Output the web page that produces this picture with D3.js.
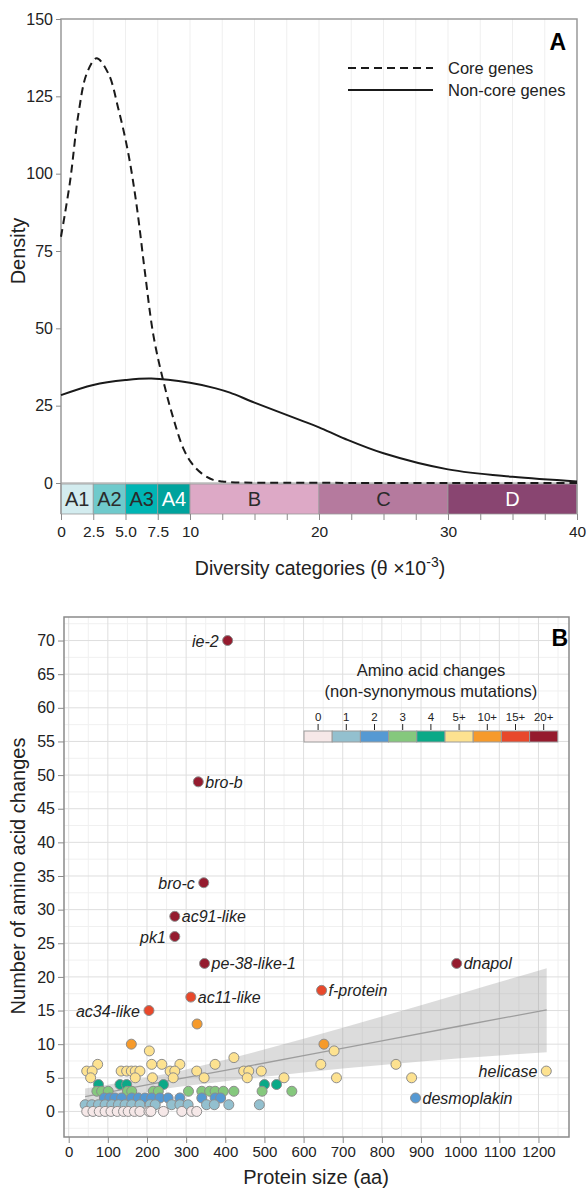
<!DOCTYPE html>
<html>
<head>
<meta charset="utf-8">
<script src="https://cdn.jsdelivr.net/npm/d3@7"></script>
<style>
  body { margin: 0; background: #fff; }
  svg { display: block; font-family: "Liberation Sans", Arial, sans-serif; }
  .axis text { fill: #222; }
  .axis line { stroke: #8a8a8a; }
</style>
</head>
<body>
<svg id="chart" width="588" height="1191"></svg>
<script>
// ---------- Panel A: density of diversity ----------
const coreX = [0, 0.7, 1.34, 2.0, 2.76, 3.67, 4.44, 5.22, 5.87, 6.51, 7.16, 7.93, 8.71, 9.48, 10.13, 10.9, 11.8, 12.5, 13.5, 15, 20, 30, 40];
const coreY = [79.6, 97.4, 119, 132.4, 137.3, 132.4, 121.1, 106.5, 89.5, 68.0, 47.8, 33.0, 20.9, 11.2, 6.4, 3.1, 1.0, 0.5, 0.2, 0.1, 0.05, 0, 0];
const noncoreX = [0, 2.5, 5, 7, 10, 12, 13.1, 15, 18.5, 20, 22, 25, 30, 35, 40];
const noncoreY = [28.4, 31.7, 33.3, 33.8, 32.4, 30.6, 29.2, 26.0, 20.4, 18.0, 14.3, 9.6, 4.4, 2.0, 0.5];

const catNames = ["A1", "A2", "A3", "A4", "B", "C", "D"];
const catBreaks = [0, 2.5, 5, 7.5, 10, 20, 30, 40];
const diversityTicks = [0, 2.5, 5, 7.5, 10, 20, 30, 40];
const diversityLabels = ["0", "2.5", "5.0", "7.5", "10", "20", "30", "40"];
const densityTicks = [0, 25, 50, 75, 100, 125, 150];

// ---------- Panel B: amino acid changes vs protein size ----------
const proteinSize = [
  46, 62, 78, 93, 108, 124, 140, 152, 168, 182, 205, 210, 242, 289, 314, 327,
  42, 59, 76, 93, 110, 127, 144, 161, 182, 208, 221, 263, 284, 305, 352, 372, 409, 487,
  91, 105, 118, 135, 161, 178, 195, 212, 233, 254, 284, 340, 374, 388,
  72, 84, 101, 150, 161, 216, 229, 306, 340, 360, 374, 395, 422, 494, 570,
  76, 131, 148, 242, 500, 531,
  56, 170, 214, 267, 346, 456, 550, 684, 876,
  46, 60, 134, 148, 160, 170, 182, 259, 271, 327, 447, 460, 492,
  74, 212, 238, 284, 374, 644, 836,
  422, 206, 678, 160, 652, 328
];
const aaChanges = [
  0, 0, 0, 0, 0, 0, 0, 0, 0, 0, 0, 0, 0, 0, 0, 0,
  1, 1, 1, 1, 1, 1, 1, 1, 1, 1, 1, 1, 1, 1, 1, 1, 1, 1,
  2, 2, 2, 2, 2, 2, 2, 2, 2, 2, 2, 2, 2, 2,
  3, 3, 3, 3, 3, 3, 3, 3, 3, 3, 3, 3, 3, 3, 3,
  4, 4, 4, 4, 4, 4,
  5, 5, 5, 5, 5, 5, 5, 5, 5,
  6, 6, 6, 6, 6, 6, 6, 6, 6, 6, 6, 6, 6,
  7, 7, 7, 7, 7, 7, 7,
  8, 9, 9, 10, 10, 13
];
const namedGenes = ["ie-2", "bro-b", "bro-c", "ac91-like", "pk1", "pe-38-like-1", "ac11-like", "ac34-like", "f-protein", "dnapol", "helicase", "desmoplakin"];
const namedSize = [406, 331, 345, 271, 271, 347, 312, 205, 646, 991, 1220, 886];
const namedChanges = [70, 49, 34, 29, 26, 22, 17, 15, 18, 22, 6, 2];

// linear fit and its confidence band
const fitSize = [42, 150, 250, 400, 600, 800, 1000, 1221];
const fitMid = [2.2, 3.4, 4.5, 6.1, 8.3, 10.5, 12.7, 15.1];
const fitLow = [1.2, 2.3, 3.4, 4.5, 5.8, 6.9, 7.9, 8.8];
const fitHigh = [3.4, 4.5, 5.6, 7.7, 10.8, 14.1, 17.5, 21.3];

const binLabels = ["0", "1", "2", "3", "4", "5+", "10+", "15+", "20+"];
const binStarts = [0, 1, 2, 3, 4, 5, 10, 15, 20];

// ---------- styles ----------
const catColors = ["#d3ecef", "#6fcacc", "#00b5b4", "#00a39d", "#dda9c6", "#b57a9e", "#894571"];
const catText = ["#2b2b2b", "#2b2b2b", "#2b2b2b", "#fff", "#2b2b2b", "#2b2b2b", "#fff"];
const binColors = ["#f6e8e8", "#93c0cf", "#5599d3", "#85c87d", "#0aa987", "#fde290", "#f69a2b", "#e8482b", "#951b2e"];
const labelLeft = { "ie-2": 1, "bro-c": 1, "pk1": 1, "ac34-like": 1, "helicase": 1 };

const svg = d3.select("#chart");

// ================= Panel A =================
function drawDensity() {
  const x = d3.scaleLinear().domain([0, 40]).range([61, 577]);
  const y = d3.scaleLinear().domain([0, 150]).range([483, 19]);
  const barTop = 484, barBottom = 514;
  const g = svg.append("g");

  // vertical grid every 2.5
  g.selectAll(".vgrid").data(d3.range(2.5, 40, 2.5)).join("line")
    .attr("x1", d => x(d)).attr("x2", d => x(d))
    .attr("y1", y(150)).attr("y2", y(0))
    .attr("stroke", "#efefef").attr("stroke-width", 1);

  // category bar
  g.selectAll(".cat").data(catNames).join("rect")
    .attr("x", (d, i) => x(catBreaks[i]))
    .attr("width", (d, i) => x(catBreaks[i + 1]) - x(catBreaks[i]))
    .attr("y", barTop).attr("height", barBottom - barTop)
    .attr("fill", (d, i) => catColors[i])
    .attr("stroke", "#9a9a9a").attr("stroke-width", 0.8);
  g.selectAll(".catlab").data(catNames).join("text")
    .attr("x", (d, i) => (x(catBreaks[i]) + x(catBreaks[i + 1])) / 2)
    .attr("y", (barTop + barBottom) / 2 + 7)
    .attr("text-anchor", "middle")
    .attr("font-size", 20)
    .attr("fill", (d, i) => catText[i])
    .text(d => d);

  // frame
  g.append("path")
    .attr("d", `M${x(0)},${barBottom}V${y(150)}H${x(40)}V${barBottom}`)
    .attr("fill", "none").attr("stroke", "#999").attr("stroke-width", 1.5);
  g.append("line")
    .attr("x1", x(0)).attr("x2", x(40)).attr("y1", y(0)).attr("y2", y(0))
    .attr("stroke", "#999").attr("stroke-width", 1.2);

  // y axis
  const ya = g.append("g").attr("class", "axis")
    .attr("transform", `translate(${x(0)},0)`)
    .call(d3.axisLeft(y).tickValues(densityTicks).tickSize(5).tickPadding(3));
  ya.select(".domain").remove();
  ya.selectAll("text").attr("font-size", 16).attr("font-family", null);

  // x axis under the category bar
  const xa = g.append("g").attr("class", "axis")
    .attr("transform", `translate(0,${barBottom})`)
    .call(d3.axisBottom(x).tickValues(d3.range(0, 40.01, 2.5)).tickSize(6).tickPadding(6)
      .tickFormat(d => {
        const k = diversityTicks.indexOf(d);
        return k < 0 ? "" : diversityLabels[k];
      }));
  xa.select(".domain").remove();
  xa.selectAll("text").attr("font-size", 15.5).attr("font-family", null);

  // curves
  const line = d3.line().x(d => x(d[0])).y(d => y(d[1])).curve(d3.curveCatmullRom.alpha(0.5));
  g.append("path")
    .datum(noncoreX.map((v, i) => [v, noncoreY[i]]))
    .attr("d", line).attr("fill", "none")
    .attr("stroke", "#1a1a1a").attr("stroke-width", 2);
  g.append("path")
    .datum(coreX.map((v, i) => [v, coreY[i]]))
    .attr("d", line).attr("fill", "none")
    .attr("stroke", "#1a1a1a").attr("stroke-width", 2)
    .attr("stroke-dasharray", "8,5");

  // legend
  const lg = g.append("g");
  [["Core genes", "8,5"], ["Non-core genes", null]].forEach((item, i) => {
    const ly = 68 + i * 22;
    lg.append("line").attr("x1", 348).attr("x2", 433).attr("y1", ly).attr("y2", ly)
      .attr("stroke", "#1a1a1a").attr("stroke-width", 2)
      .attr("stroke-dasharray", item[1]);
    lg.append("text").attr("x", 448).attr("y", ly + 6)
      .attr("font-size", 16.5).attr("fill", "#222").text(item[0]);
  });

  g.append("text").attr("x", 566).attr("y", 50).attr("text-anchor", "end")
    .attr("font-size", 23).attr("font-weight", "bold").text("A");

  g.append("text").attr("transform", "translate(25,251) rotate(-90)")
    .attr("text-anchor", "middle").attr("font-size", 20).attr("fill", "#222")
    .text("Density");

  const t = g.append("text").attr("x", 320).attr("y", 575)
    .attr("text-anchor", "middle").attr("font-size", 19.5).attr("fill", "#222");
  t.append("tspan").text("Diversity categories (θ ×10");
  t.append("tspan").attr("font-size", 14).attr("dy", -8).text("-3");
  t.append("tspan").attr("dy", 8).text(")");
}

// ================= Panel B =================
function drawScatter() {
  const x = d3.scaleLinear().domain([-12, 1278]).range([64, 569]);
  const y = d3.scaleLinear().domain([-3.8, 73.5]).range([1137, 617]);
  const g = svg.append("g");
  const binOf = v => d3.bisectRight(binStarts, v) - 1;

  // grid
  g.selectAll(".xminor").data(d3.range(50, 1278, 100)).join("line")
    .attr("x1", d => x(d)).attr("x2", d => x(d)).attr("y1", y.range()[1]).attr("y2", y.range()[0])
    .attr("stroke", "#f0f0f0");
  g.selectAll(".yminor").data(d3.range(-2.5, 73.5, 5)).join("line")
    .attr("y1", d => y(d)).attr("y2", d => y(d)).attr("x1", x.range()[0]).attr("x2", x.range()[1])
    .attr("stroke", "#f0f0f0");
  g.selectAll(".xmajor").data(d3.range(0, 1278, 100)).join("line")
    .attr("x1", d => x(d)).attr("x2", d => x(d)).attr("y1", y.range()[1]).attr("y2", y.range()[0])
    .attr("stroke", "#dedede");
  g.selectAll(".ymajor").data(d3.range(0, 73.5, 5)).join("line")
    .attr("y1", d => y(d)).attr("y2", d => y(d)).attr("x1", x.range()[0]).attr("x2", x.range()[1])
    .attr("stroke", "#dedede");

  // fit band and line
  const fit = fitSize.map((s, i) => ({ s, m: fitMid[i], lo: fitLow[i], hi: fitHigh[i] }));
  g.append("path").datum(fit)
    .attr("d", d3.area().x(d => x(d.s)).y0(d => y(d.lo)).y1(d => y(d.hi)).curve(d3.curveMonotoneX))
    .attr("fill", "#9a9a9a").attr("fill-opacity", 0.35);
  g.append("path").datum(fit)
    .attr("d", d3.line().x(d => x(d.s)).y(d => y(d.m)))
    .attr("fill", "none").attr("stroke", "#9d9d9d").attr("stroke-width", 1.3);

  // points: higher counts first so low counts sit on top
  const pts = proteinSize.map((s, i) => ({ s, v: aaChanges[i] }))
    .concat(namedSize.map((s, i) => ({ s, v: namedChanges[i], name: namedGenes[i] })))
    .sort((a, b) => b.v - a.v);
  g.selectAll(".pt").data(pts).join("circle")
    .attr("cx", d => x(d.s)).attr("cy", d => y(d.v)).attr("r", 5)
    .attr("fill", d => binColors[binOf(d.v)])
    .attr("stroke", "#8c8c8c").attr("stroke-width", 1);

  g.selectAll(".name").data(pts.filter(d => d.name)).join("text")
    .attr("x", d => labelLeft[d.name] ? x(d.s) - 9 : x(d.s) + 7)
    .attr("y", d => y(d.v) + 6)
    .attr("text-anchor", d => labelLeft[d.name] ? "end" : "start")
    .attr("font-size", 16).attr("font-style", "italic").attr("fill", "#222")
    .text(d => d.name);

  // frame
  g.append("rect")
    .attr("x", x.range()[0]).attr("y", y.range()[1])
    .attr("width", x.range()[1] - x.range()[0]).attr("height", y.range()[0] - y.range()[1])
    .attr("fill", "none").attr("stroke", "#8a8a8a").attr("stroke-width", 1.5);

  const ya = g.append("g").attr("class", "axis")
    .attr("transform", `translate(${x.range()[0]},0)`)
    .call(d3.axisLeft(y).tickValues(d3.range(0, 71, 5)).tickSize(6).tickPadding(3));
  ya.select(".domain").remove();
  ya.selectAll("text").attr("font-size", 16).attr("font-family", null);

  const xa = g.append("g").attr("class", "axis")
    .attr("transform", `translate(0,${y.range()[0]})`)
    .call(d3.axisBottom(x).tickValues(d3.range(0, 1201, 100)).tickFormat(d3.format("d"))
      .tickSize(6).tickPadding(3));
  xa.select(".domain").remove();
  xa.selectAll("text").attr("font-size", 15).attr("font-family", null);

  // legend
  const lx = 304, lw = 28.2, ly = 731;
  const leg = g.append("g");
  leg.append("text").attr("x", 431).attr("y", 676).attr("text-anchor", "middle")
    .attr("font-size", 16.5).attr("fill", "#222").text("Amino acid changes");
  leg.append("text").attr("x", 431).attr("y", 697).attr("text-anchor", "middle")
    .attr("font-size", 16.5).attr("fill", "#222").text("(non-synonymous mutations)");
  leg.selectAll(".sw").data(binLabels).join("rect")
    .attr("x", (d, i) => lx + i * lw).attr("y", ly).attr("width", lw).attr("height", 11)
    .attr("fill", (d, i) => binColors[i]).attr("stroke", "#9a9a9a").attr("stroke-width", 1);
  leg.selectAll(".swt").data(binLabels).join("line")
    .attr("x1", (d, i) => lx + i * lw + lw / 2).attr("x2", (d, i) => lx + i * lw + lw / 2)
    .attr("y1", ly - 7).attr("y2", ly - 1).attr("stroke", "#222");
  leg.selectAll(".swl").data(binLabels).join("text")
    .attr("x", (d, i) => lx + i * lw + lw / 2).attr("y", ly - 10)
    .attr("text-anchor", "middle").attr("font-size", 11.5).attr("fill", "#222")
    .text(d => d);

  g.append("text").attr("x", 568).attr("y", 646).attr("text-anchor", "end")
    .attr("font-size", 23).attr("font-weight", "bold").text("B");

  g.append("text").attr("transform", "translate(25,876) rotate(-90)")
    .attr("text-anchor", "middle").attr("font-size", 20).attr("fill", "#222")
    .text("Number of amino acid changes");
  g.append("text").attr("x", 316).attr("y", 1184).attr("text-anchor", "middle")
    .attr("font-size", 20).attr("fill", "#222").text("Protein size (aa)");
}

drawDensity();
drawScatter();
</script>
</body>
</html>
